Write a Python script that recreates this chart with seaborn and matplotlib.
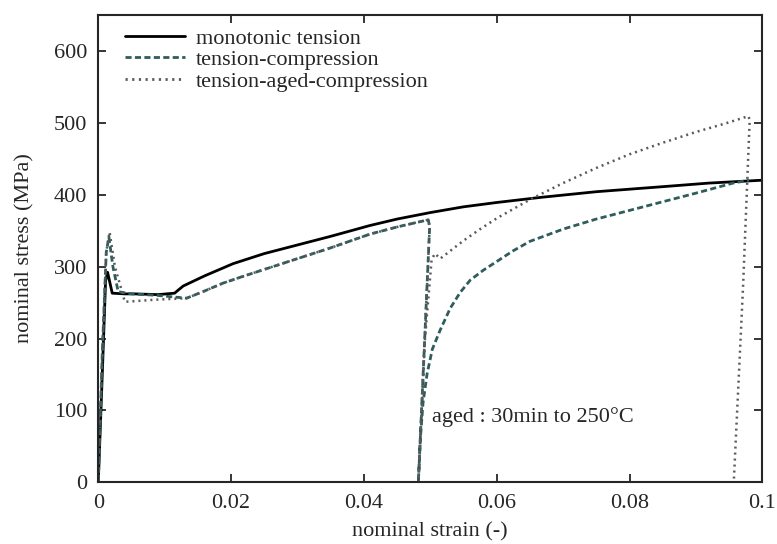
import pandas as pd
import matplotlib
matplotlib.use("Agg")
import matplotlib.pyplot as plt
import seaborn as sns

# monotonic tension
mono_strain = [0, 0.0006, 0.0011, 0.0014, 0.0021, 0.004, 0.0055, 0.009, 0.0115, 0.012, 0.0128,
               0.016, 0.0203, 0.025, 0.030, 0.035, 0.0409, 0.045, 0.05, 0.055, 0.060, 0.0665,
               0.075, 0.085, 0.092, 0.1]
mono_stress = [0, 150, 280, 292, 263, 262, 262, 261, 263, 267, 273,
               287, 304, 318, 330, 342, 357, 366, 375, 383, 389, 396,
               404, 411, 416, 420]

# tension-compression
tc_strain = [0, 0.0006, 0.0012, 0.0016, 0.0022, 0.003, 0.005, 0.0088, 0.0133, 0.016, 0.0188,
             0.022, 0.026, 0.030, 0.035, 0.0409, 0.045, 0.0497, 0.0499, 0.0482, 0.0485, 0.0489,
             0.0495, 0.0503, 0.0515, 0.053, 0.0545, 0.056, 0.058, 0.060, 0.0625, 0.065, 0.070,
             0.075, 0.080, 0.085, 0.090, 0.0956, 0.098]
tc_stress = [0, 180, 320, 341, 300, 265, 262, 260, 256, 266, 277,
             287, 299, 311, 326, 345, 355, 365, 355, 0, 60, 110,
             150, 185, 212, 242, 264, 281, 295, 307, 322, 335, 352,
             366, 378, 390, 402, 416, 420]

# tension-aged-compression
tac_strain = [0, 0.0006, 0.0012, 0.0017, 0.0025, 0.004, 0.0088, 0.0133, 0.016, 0.0188, 0.022,
              0.026, 0.030, 0.035, 0.0409, 0.045, 0.0497, 0.0499, 0.0482, 0.0492, 0.0502, 0.0507,
              0.0515, 0.055, 0.0575, 0.060, 0.0625, 0.065, 0.070, 0.075, 0.080, 0.085, 0.090,
              0.0945, 0.0979, 0.0981, 0.0971, 0.0957]
tac_stress = [0, 180, 320, 348, 300, 251, 254, 256, 266, 277, 287,
              299, 311, 326, 345, 355, 365, 355, 0, 200, 310, 318,
              311, 336, 352, 367, 380, 393, 416, 437, 456, 472, 487,
              499, 509, 504, 272, 0]

labels = ["monotonic tension", "tension-compression", "tension-aged-compression"]
x_ticks = [0, 0.02, 0.04, 0.06, 0.08, 0.1]
x_ticklabels = ["0", "0.02", "0.04", "0.06", "0.08", "0.1"]
y_ticks = [0, 100, 200, 300, 400, 500, 600]

sns.set_style("ticks")
plt.rcParams['font.family'] = ['Liberation Serif', 'DejaVu Serif']

fig = plt.figure(figsize=(7.77, 5.44), dpi=100)
ax = fig.add_axes([0.1265, 0.1132, 0.8546, 0.8598])

df1 = pd.DataFrame({"strain": mono_strain, "stress": mono_stress})
df2 = pd.DataFrame({"strain": tc_strain, "stress": tc_stress})
df3 = pd.DataFrame({"strain": tac_strain, "stress": tac_stress})

sns.lineplot(data=df1, x="strain", y="stress", sort=False, estimator=None, ax=ax,
             color="black", lw=2.0, label=labels[0])
sns.lineplot(data=df2, x="strain", y="stress", sort=False, estimator=None, ax=ax,
             color="#2f5c5c", lw=2.0, label=labels[1])
sns.lineplot(data=df3, x="strain", y="stress", sort=False, estimator=None, ax=ax,
             color="#5a5a5a", lw=1.8, label=labels[2])
ax.lines[1].set_dashes([2.2, 1.2])
ax.lines[2].set_dashes([0.8, 1.6])

ax.set_xlim(0, 0.1)
ax.set_ylim(0, 650)
ax.set_xticks(x_ticks)
ax.set_xticklabels(x_ticklabels)
ax.set_yticks(y_ticks)
ax.tick_params(direction="in", top=True, right=True, length=6, width=1.3,
               labelsize=16, pad=8)
for s in ax.spines.values():
    s.set_linewidth(1.5)
    s.set_visible(True)

ax.set_xlabel("nominal strain (-)", fontsize=16, labelpad=7)
ax.set_ylabel("nominal stress (MPa)", fontsize=16, labelpad=14)

ax.text(0.0503, 91, "aged : 30min to 250°C", fontsize=16, va="center", ha="left")

leg = ax.legend(loc="upper left", frameon=False, fontsize=16, handlelength=2.7,
                handletextpad=0.5, labelspacing=0.05, borderaxespad=0.2,
                bbox_to_anchor=(0.02, 1.0))
for h in leg.get_lines():
    h.set_linewidth(2.0)

fig.savefig("out.png", dpi=100)
